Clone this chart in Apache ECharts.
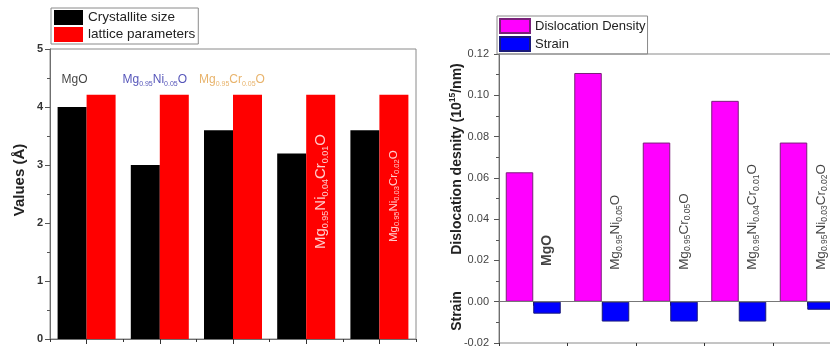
<!DOCTYPE html>
<html>
<head>
<meta charset="utf-8">
<script src="https://cdn.jsdelivr.net/npm/echarts@6/dist/echarts.min.js"></script>
<style>
  html, body { margin: 0; padding: 0; background: #fff; }
  #chart { width: 830px; height: 347px; }
</style>
</head>
<body>
<div id="chart"></div>
<script>
// Sample compositions (numbers inside a formula are drawn as subscripts)
const samples = ['MgO', 'Mg0.95Ni0.05O', 'Mg0.95Cr0.05O', 'Mg0.95Ni0.04Cr0.01O', 'Mg0.95Ni0.03Cr0.02O'];

// Left panel: structural values (Å)
const crystalliteSize = [4.0, 3.0, 3.6, 3.2, 3.6];
const latticeParameters = [4.21, 4.21, 4.21, 4.21, 4.21];
const valuesAxis = { min: 0, max: 5, step: 1 };

// Right panel: dislocation density (10^15/nm) and strain
const dislocationDensity = [0.0627, 0.1108, 0.0771, 0.0973, 0.0771];
const strain = [-0.0058, -0.0096, -0.0096, -0.0096, -0.0039];
const densityAxis = { min: -0.02, max: 0.12, step: 0.02 };

// Where each composition label sits along the value axis
const leftLabelLevel = [4.47, 4.47, 4.47, 1.55, 1.67];
const rightLabelLevel = [0.0173, 0.0154, 0.0154, 0.0154, 0.0154];

const FONT = 'Liberation Sans, Arial, sans-serif';

// 'Mg0.95Ni0.05O' -> '{m|Mg}{s|0.95}{m|Ni}{s|0.05}{m|O}'
function formulaRich(name) {
  return name.split(/(\d+\.\d+)/).filter(p => p !== '')
    .map(p => (/^\d+\.\d+$/.test(p) ? '{s|' + p + '}' : '{m|' + p + '}')).join('');
}
function richStyles(main, sub, color, weight, subLine) {
  return {
    m: { fontSize: main, fontFamily: FONT, color: color, fontWeight: weight, lineHeight: main + 3 },
    s: { fontSize: sub, fontFamily: FONT, color: color, fontWeight: weight, lineHeight: subLine || sub, verticalAlign: 'bottom' }
  };
}

// Label styling for the left panel
const leftLabelStyle = [
  { color: '#111111', dx: -12, rotate: 0, main: 12, sub: 7 },
  { color: '#2a2aa8', dx: -5, rotate: 0, main: 12, sub: 7 },
  { color: '#e2a047', dx: -1, rotate: 0, main: 12, sub: 7 },
  { color: '#ffffff', dx: 14.6, rotate: 90, main: 15, sub: 9 },
  { color: '#ffffff', dx: 14.6, rotate: 90, main: 11.5, sub: 7.5, subLine: 12 }
];

const leftLabelData = samples.map((name, i) => {
  const st = leftLabelStyle[i];
  const rotated = st.rotate !== 0;
  return {
    value: [i, leftLabelLevel[i]],
    label: {
      show: true,
      position: [st.dx, 0],
      rotate: st.rotate,
      align: rotated ? 'left' : 'center',
      verticalAlign: 'middle',
      formatter: formulaRich(name),
      rich: richStyles(st.main, st.sub, st.color, 'normal', st.subLine)
    }
  };
});

const rightLabelData = samples.map((name, i) => ({
  value: [i, rightLabelLevel[i]],
  label: {
    show: true,
    position: [14, 0],
    rotate: 90,
    align: 'left',
    verticalAlign: 'middle',
    formatter: formulaRich(name),
    rich: i === 0 ? richStyles(14, 8.5, '#111111', 'bold') : richStyles(13.5, 8.5, '#111111', 'normal')
  }
}));

const axisGrey = '#6f6f6f';

function categoryAxes(gridIndex, majorLen) {
  return [
    {
      type: 'category', gridIndex: gridIndex, data: samples, position: 'bottom',
      axisLine: { show: true, lineStyle: { color: axisGrey, width: 1 } },
      axisTick: { show: true, interval: 0, alignWithLabel: true, length: majorLen, lineStyle: { color: '#333' } },
      axisLabel: { show: false, interval: 0 }, splitLine: { show: false }
    },
    {
      type: 'category', gridIndex: gridIndex, data: samples, position: 'bottom',
      axisLine: { show: false },
      axisTick: { show: true, interval: 0, length: 3, lineStyle: { color: '#333' } },
      axisLabel: { show: false, interval: 0 }, splitLine: { show: false }
    }
  ];
}

const option = {
  animation: false,
  backgroundColor: '#ffffff',
  grid: [
    { left: 50, top: 49, width: 366, height: 290, show: true, borderColor: '#8a8a8a', borderWidth: 1,
      outerBoundsMode: 'none' },
    { left: 499, top: 54, width: 342.5, height: 289, show: true, borderColor: '#8a8a8a', borderWidth: 1,
      outerBoundsMode: 'none' }
  ],
  legend: [
    {
      left: 51, top: 8, orient: 'vertical', icon: 'rect',
      itemWidth: 29, itemHeight: 15, itemGap: 2,
      padding: [2, 3, 2, 3],
      borderColor: '#8a8a8a', borderWidth: 1,
      textStyle: { fontFamily: FONT, fontSize: 13.5, color: '#222' },
      data: ['Crystallite size', 'lattice parameters']
    },
    {
      left: 497, top: 16, orient: 'vertical', icon: 'rect',
      itemWidth: 30, itemHeight: 14, itemGap: 2,
      padding: [2, 2, 2, 2],
      borderColor: '#8a8a8a', borderWidth: 1,
      textStyle: { fontFamily: FONT, fontSize: 13, color: '#222' },
      data: ['Dislocation Density', 'Strain']
    }
  ],
  xAxis: [].concat(categoryAxes(0, 5), categoryAxes(1, 4)),
  yAxis: [
    {
      type: 'value', gridIndex: 0, min: valuesAxis.min, max: valuesAxis.max, interval: valuesAxis.step,
      axisLine: { show: true, lineStyle: { color: axisGrey } },
      axisTick: { show: true, length: 5, lineStyle: { color: '#555' } },
      minorTick: { show: true, splitNumber: 2, length: 3, lineStyle: { color: '#555' } },
      axisLabel: { margin: 7, fontFamily: FONT, fontSize: 11, fontWeight: 'bold', color: '#333' },
      splitLine: { show: false }
    },
    {
      type: 'value', gridIndex: 1, min: densityAxis.min, max: densityAxis.max, interval: densityAxis.step,
      axisLine: { show: true, lineStyle: { color: axisGrey } },
      axisTick: { show: true, length: 5, lineStyle: { color: '#555' } },
      minorTick: { show: true, splitNumber: 2, length: 3, lineStyle: { color: '#555' } },
      axisLabel: { margin: 10, fontFamily: FONT, fontSize: 11, color: '#444',
        formatter: v => v.toFixed(2) },
      splitLine: { show: false }
    }
  ],
  series: [
    {
      name: 'Crystallite size', type: 'bar', xAxisIndex: 0, yAxisIndex: 0,
      data: crystalliteSize, barWidth: 29, barGap: '0%',
      itemStyle: { color: '#000000' }, silent: true
    },
    {
      name: 'lattice parameters', type: 'bar', xAxisIndex: 0, yAxisIndex: 0,
      data: latticeParameters, barWidth: 29, barGap: '0%',
      itemStyle: { color: '#ff0000' }, silent: true
    },
    {
      name: 'Dislocation Density', type: 'bar', xAxisIndex: 2, yAxisIndex: 1,
      data: dislocationDensity, barWidth: 27.5, barGap: '0%',
      itemStyle: { color: '#ff00ff', borderColor: '#7a1f7a', borderWidth: 1 }, silent: true,
      markLine: {
        silent: true, symbol: 'none', label: { show: false },
        lineStyle: { color: '#777', type: 'solid', width: 1 },
        data: [{ yAxis: 0 }]
      }
    },
    {
      name: 'Strain', type: 'bar', xAxisIndex: 2, yAxisIndex: 1,
      data: strain, barWidth: 27.5, barGap: '0%',
      itemStyle: { color: '#0000ff', borderColor: '#1a1a7a', borderWidth: 1 }, silent: true
    },
    {
      name: 'left-labels', type: 'scatter', xAxisIndex: 0, yAxisIndex: 0,
      symbolSize: 0.1, itemStyle: { color: 'rgba(0,0,0,0)' }, silent: true, z: 5,
      data: leftLabelData
    },
    {
      name: 'right-labels', type: 'scatter', xAxisIndex: 2, yAxisIndex: 1,
      symbolSize: 0.1, itemStyle: { color: 'rgba(0,0,0,0)' }, silent: true, z: 5,
      data: rightLabelData
    }
  ],
  graphic: [
    {
      type: 'text', x: 20, y: 180, rotation: Math.PI / 2,
      style: { text: 'Values (Å)', fontFamily: FONT, fontSize: 15, fontWeight: 'bold', fill: '#222',
        align: 'center', verticalAlign: 'middle' }
    },
    {
      type: 'text', x: 457, y: 159, rotation: Math.PI / 2,
      style: {
        text: '{b|Dislocation desnity (10}{p|15}{b|/nm)}',
        rich: {
          b: { fontFamily: FONT, fontSize: 14, fontWeight: 'bold', fill: '#222', lineHeight: 17 },
          p: { fontFamily: FONT, fontSize: 8.5, fontWeight: 'bold', fill: '#222', lineHeight: 9, verticalAlign: 'top' }
        },
        align: 'center', verticalAlign: 'middle'
      }
    },
    {
      type: 'text', x: 457, y: 311, rotation: Math.PI / 2,
      style: { text: 'Strain', fontFamily: FONT, fontSize: 14, fontWeight: 'bold', fill: '#222',
        align: 'center', verticalAlign: 'middle' }
    }
  ]
};

const chart = echarts.init(document.getElementById('chart'), null, { renderer: 'canvas' });
chart.setOption(option);
</script>
</body>
</html>
